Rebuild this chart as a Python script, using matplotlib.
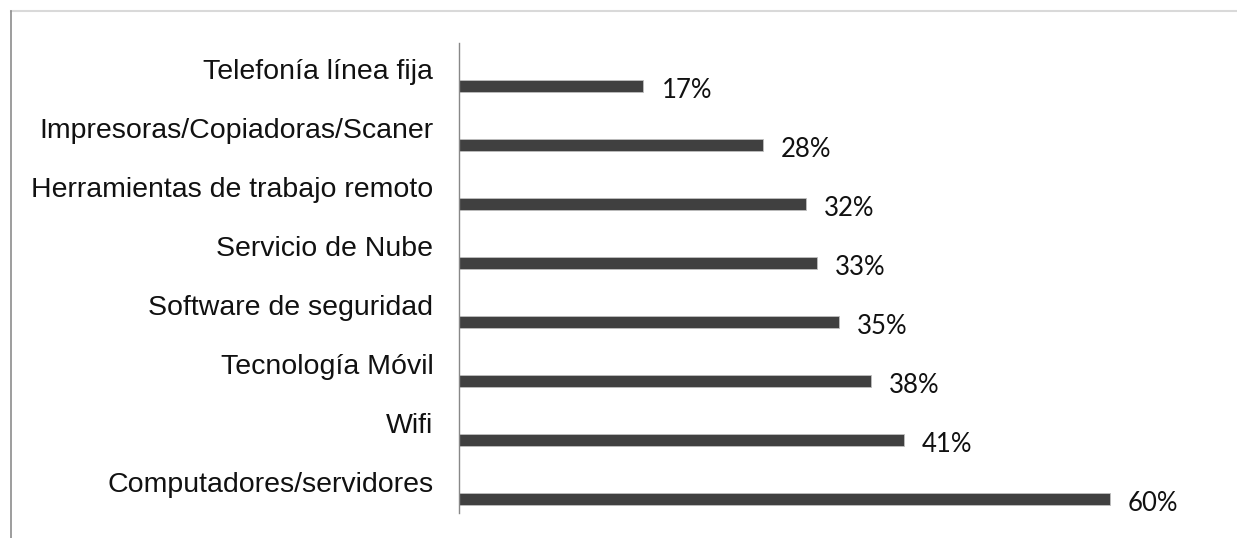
import matplotlib.pyplot as plt
from matplotlib.lines import Line2D

# categorias de arriba hacia abajo
categorias = ["Telefonía línea fija", "Impresoras/Copiadoras/Scaner",
              "Herramientas de trabajo remoto", "Servicio de Nube",
              "Software de seguridad", "Tecnología Móvil", "Wifi",
              "Computadores/servidores"]
valores = [17, 28, 32, 33, 35, 38, 41, 60]

W, H = 1237, 538
fig = plt.figure(figsize=(W / 100, H / 100), dpi=100)

# posicion del eje en pixeles
x0, x1 = 459, 1200
y_top, y_bot = 43, 513
ax = fig.add_axes([x0 / W, (H - y_bot) / H, (x1 - x0) / W, (y_bot - y_top) / H])

n = len(categorias)
pos = [n - 1 - i for i in range(n)]
ax.barh(pos, valores, height=0.2, color="#404040", edgecolor="#bfbfbf", linewidth=0.6)

px_por_pct = 651 / 60
ax.set_xlim(0, (x1 - x0) / px_por_pct)
ax.set_ylim(-0.24, n - 1 + 0.73)

for p, v, c in zip(pos, valores, categorias):
    ax.annotate(c, (0, p), xytext=(-18.5, 10), textcoords="offset points",
                ha="right", va="center", fontsize=20.5, family="Liberation Sans",
                color="#111111")
    ax.annotate(f"{v}%", (v, p), xytext=(13, -3), textcoords="offset points",
                ha="left", va="center", fontsize=18.5, family="Lato", color="#111111")

ax.set_xticks([])
ax.set_yticks([])
for s in ["top", "right", "bottom"]:
    ax.spines[s].set_visible(False)
ax.spines["left"].set_color("#888888")
ax.spines["left"].set_linewidth(1)

# marco exterior
fig.add_artist(Line2D([11 / W, 1], [1 - 11 / H, 1 - 11 / H], color="#d9d9d9", lw=1.5))
fig.add_artist(Line2D([11 / W, 11 / W], [0, 1 - 11 / H], color="#8c8c8c", lw=1.2))

fig.savefig("out.png", dpi=100)
